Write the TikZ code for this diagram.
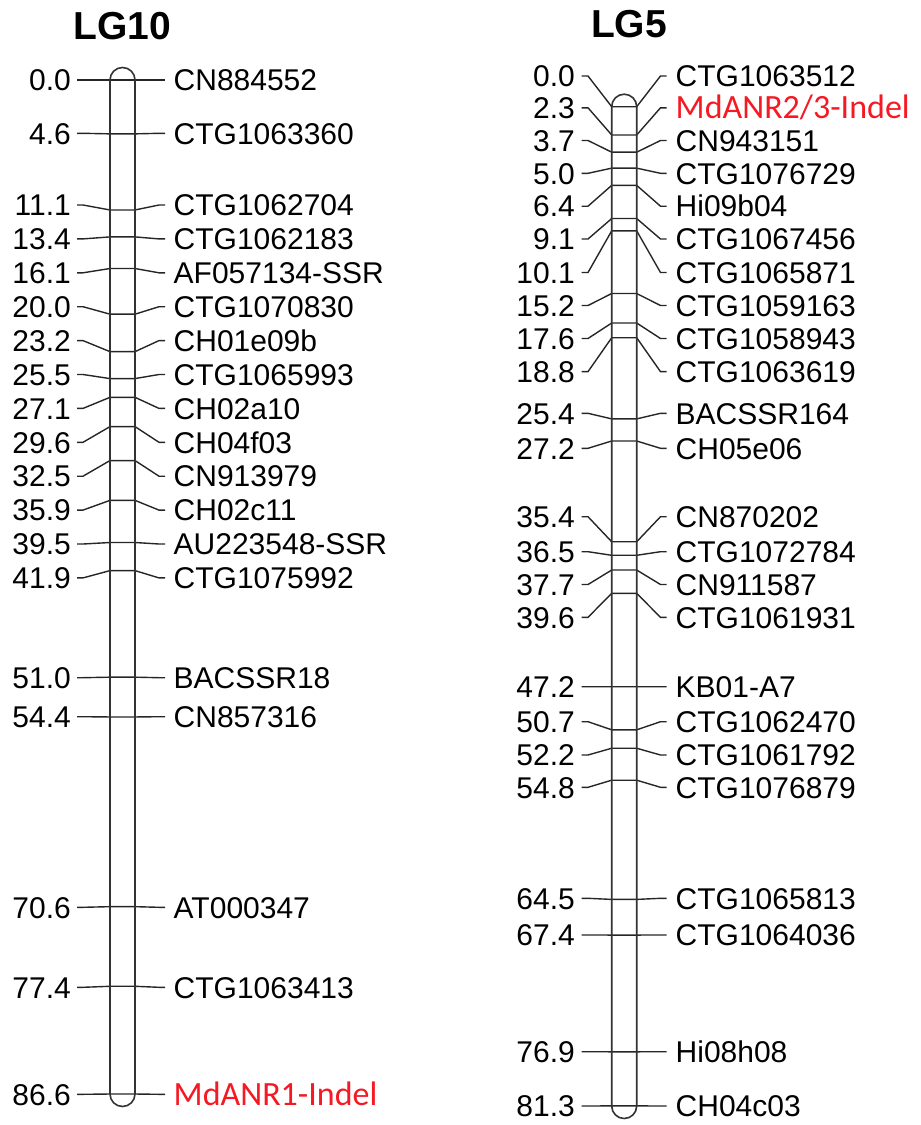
\documentclass[tikz,border=0pt]{standalone}
\usepackage{fontspec}
\setmainfont{Liberation Sans}
\newfontfamily\calib{Carlito}
\definecolor{mkred}{RGB}{245,25,35}
\begin{document}
\begin{tikzpicture}[x=1pt,y=-1pt,
  num/.style={anchor=east,inner sep=0pt,text height=21.5pt,text depth=0pt,font=\fontsize{30}{36}\selectfont},
  lab/.style={anchor=west,inner sep=0pt,text height=21.5pt,text depth=0pt,font=\fontsize{30}{36}\selectfont},
  redlab/.style={anchor=west,inner sep=0pt,text height=21.9pt,text depth=0pt,font=\calib\fontsize{34}{40}\selectfont,text=mkred},
  conn/.style={line width=1.4pt,black!85},
  chrom/.style={line width=1.6pt,black!80},
  title/.style={inner sep=0pt,text height=28pt,text depth=0pt,font=\bfseries\fontsize{39}{46}\selectfont}]

\useasboundingbox (0,0) rectangle (921,1125);

% ---------------- LG10 ----------------
\node[title] (t10) at (122.5,25) {LG10};
\foreach \cm/\ly/\nm/\st [count=\i] in {
  0.0/80/CN884552/lab,
  4.6/133.3/CTG1063360/lab,
  11.1/205/CTG1062704/lab,
  13.4/238.9/CTG1062183/lab,
  16.1/272.8/AF057134-SSR/lab,
  20.0/306.7/CTG1070830/lab,
  23.2/340.6/CH01e09b/lab,
  25.5/374.5/CTG1065993/lab,
  27.1/408.4/CH02a10/lab,
  29.6/442.3/CH04f03/lab,
  32.5/476.2/CN913979/lab,
  35.9/510.1/CH02c11/lab,
  39.5/544/AU223548-SSR/lab,
  41.9/577.9/CTG1075992/lab,
  51.0/677.7/BACSSR18/lab,
  54.4/716.7/CN857316/lab,
  70.6/907.3/AT000347/lab,
  77.4/987.3/CTG1063413/lab,
  86.6/1094.3/MdANR1-Indel/redlab}
{
  \pgfmathsetmacro\my{80+11.709*\cm}
  \node[num] (na\i) at (71,\ly) {\cm};
  \node[\st] (ma\i) at (173.5,\ly) {\nm};
  \coordinate (pa1-\i) at (77,\ly);
  \coordinate (pa2-\i) at (83,\ly);
  \coordinate (pa3-\i) at (110,\my);
  \coordinate (pa4-\i) at (135,\my);
  \coordinate (pa5-\i) at (159,\ly);
  \coordinate (pa6-\i) at (165,\ly);
  \draw[conn] (pa1-\i) -- (pa2-\i) -- (pa3-\i) -- (pa4-\i) -- (pa5-\i) -- (pa6-\i);
}
\draw[chrom] (110,80) -- (110,1094) arc[start angle=180,end angle=0,radius=12.5]
  -- (135,80) arc[start angle=0,end angle=-180,radius=12.5] -- cycle;

% ---------------- LG5 ----------------
\node[title] (t5) at (629,23) {LG5};
\foreach \cm/\ly/\nm/\st [count=\i] in {
  0.0/76/CTG1063512/lab,
  2.3/107.8/{MdANR2/3-Indel}/redlab,
  3.7/140.5/CN943151/lab,
  5.0/173.3/CTG1076729/lab,
  6.4/206.2/Hi09b04/lab,
  9.1/239/CTG1067456/lab,
  10.1/272.5/CTG1065871/lab,
  15.2/305.5/CTG1059163/lab,
  17.6/338.5/CTG1058943/lab,
  18.8/371.65/CTG1063619/lab,
  25.4/413.3/BACSSR164/lab,
  27.2/448.3/CH05e06/lab,
  35.4/516.7/CN870202/lab,
  36.5/551.7/CTG1072784/lab,
  37.7/584.5/CN911587/lab,
  39.6/617.3/CTG1061931/lab,
  47.2/686.7/KB01-A7/lab,
  50.7/721.7/CTG1062470/lab,
  52.2/755/CTG1061792/lab,
  54.8/787.3/CTG1076879/lab,
  64.5/898.3/CTG1065813/lab,
  67.4/935/CTG1064036/lab,
  76.9/1051.7/Hi08h08/lab,
  81.3/1106/CH04c03/lab}
{
  \pgfmathsetmacro\my{106.7+12.29*\cm}
  \node[num] (nb\i) at (575,\ly) {\cm};
  \node[\st] (mb\i) at (675.5,\ly) {\nm};
  \coordinate (pb1-\i) at (581.7,\ly);
  \coordinate (pb2-\i) at (588,\ly);
  \coordinate (pb3-\i) at (611.7,\my);
  \coordinate (pb4-\i) at (636.7,\my);
  \coordinate (pb5-\i) at (660.5,\ly);
  \coordinate (pb6-\i) at (666.7,\ly);
  \draw[conn] (pb1-\i) -- (pb2-\i) -- (pb3-\i) -- (pb4-\i) -- (pb5-\i) -- (pb6-\i);
}
\draw[chrom] (611.7,106.7) -- (611.7,1106) arc[start angle=180,end angle=0,radius=12.5]
  -- (636.7,106.7) arc[start angle=0,end angle=-180,radius=12.5] -- cycle;
\end{tikzpicture}
\end{document}
